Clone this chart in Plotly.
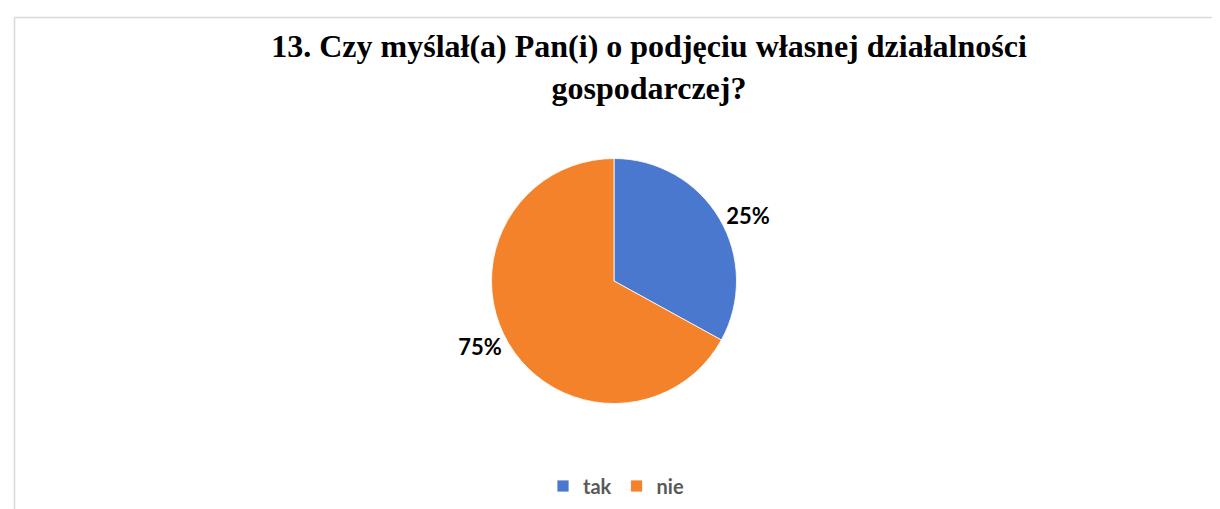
import plotly.graph_objects as go

# Data
categories = ["tak", "nie"]
slice_shares = [33, 67]          # slice sizes as drawn in the picture
label_texts = ["25%", "75%"]     # data labels as printed on the chart
colors = ["#4a78cf", "#f3822b"]

title_text = "13. Czy myślał(a) Pan(i) o podjęciu własnej działalności<br>gospodarczej?"

W, H = 1220, 509
cx, cy, r = 606, 273, 122.5

fig = go.Figure(
    go.Pie(
        labels=categories,
        values=slice_shares,
        text=label_texts,
        textinfo="text",
        textposition="outside",
        sort=False,
        direction="clockwise",
        rotation=0,
        marker=dict(colors=colors, line=dict(color="#ffffff", width=0.8)),
        textfont=dict(family="Lato", size=22, color="#000000", weight=700),
        outsidetextfont=dict(family="Lato", size=22, color="#000000", weight=700),
        domain=dict(
            x=[(cx - 220) / W, (cx + 220) / W],
            y=[(H - (cy + r)) / H, (H - (cy - r)) / H],
        ),
        hoverinfo="label+text",
    )
)

fig.update_layout(
    width=W,
    height=H,
    margin=dict(l=0, r=0, t=0, b=0),
    paper_bgcolor="#ffffff",
    plot_bgcolor="#ffffff",
    title=dict(
        text=title_text,
        x=641 / W,
        xanchor="center",
        y=1 - 49 / H,
        yanchor="top",
        font=dict(family="Liberation Serif", size=32, color="#000000", weight="bold"),
    ),
    showlegend=True,
    legend=dict(
        orientation="h",
        x=608 / W,
        xanchor="center",
        y=1 - 478 / H,
        yanchor="middle",
        font=dict(family="Lato", size=20, color="#595959", weight=700),
        itemwidth=30,
        traceorder="normal",
    ),
    shapes=[
        dict(type="line", xref="paper", yref="paper",
             x0=6.5 / W, x1=1, y0=1 - 9.5 / H, y1=1 - 9.5 / H,
             line=dict(color="#d9d9d9", width=1.5)),
        dict(type="line", xref="paper", yref="paper",
             x0=6.5 / W, x1=6.5 / W, y0=0, y1=1 - 9.5 / H,
             line=dict(color="#d9d9d9", width=1.5)),
    ],
)

fig.write_html("out.html")
